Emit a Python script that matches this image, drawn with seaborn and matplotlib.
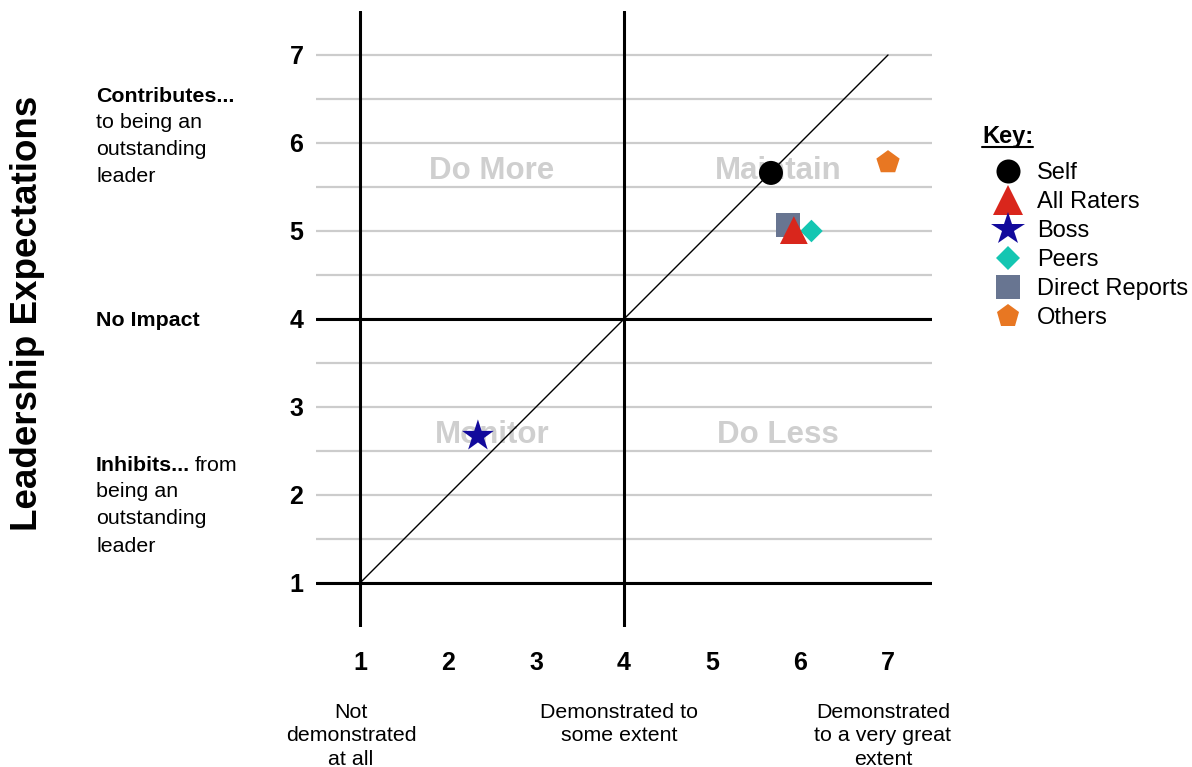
import pandas as pd
import matplotlib
matplotlib.use("Agg")
import matplotlib.pyplot as plt
from matplotlib.lines import Line2D
import seaborn as sns

# ratings (x = demonstrated, y = expectations)
raters = ["Self", "All Raters", "Boss", "Peers", "Direct Reports", "Others"]
demonstrated = [5.67, 5.93, 2.34, 6.13, 5.86, 7.0]
expectations = [5.66, 5.01, 2.67, 5.0, 5.07, 5.78]

scale_ticks = [1, 2, 3, 4, 5, 6, 7]
quadrants = ["Do More", "Maintain", "Monitor", "Do Less"]
quadrant_x = [2.5, 5.75, 2.5, 5.75]
quadrant_y = [5.59, 5.59, 2.59, 2.59]
bottom_labels = ["Not\ndemonstrated\nat all", "Demonstrated to\nsome extent",
                 "Demonstrated\nto a very great\nextent"]

colors = {"Self": "#000000", "All Raters": "#d9261c", "Boss": "#120a9c",
          "Peers": "#14c6b2", "Direct Reports": "#687591", "Others": "#e87722"}
markers = {"Self": "o", "All Raters": "^", "Boss": "*", "Peers": "D",
           "Direct Reports": "s", "Others": "p"}
msize = {"Self": 17.3, "All Raters": 20, "Boss": 24, "Peers": 11.5,
         "Direct Reports": 17.3, "Others": 17.6}
leg_msize = {"Self": 17.3, "All Raters": 21, "Boss": 25, "Peers": 12.7,
             "Direct Reports": 17.3, "Others": 17.4}
draw_order = ["Direct Reports", "Peers", "All Raters", "Self", "Boss", "Others"]


def plot():
    sns.set_style("white")
    plt.rcParams["font.family"] = ["Liberation Sans", "DejaVu Sans"]
    plt.rcParams["text.color"] = "black"
    plt.rcParams["xtick.color"] = "black"
    plt.rcParams["ytick.color"] = "black"

    df = pd.DataFrame({"rater": raters, "x": demonstrated, "y": expectations})
    df["order"] = df["rater"].map(draw_order.index)
    df = df.sort_values("order")

    W, H = 1192, 767
    fig = plt.figure(figsize=(W / 100, H / 100), dpi=100)
    ax = fig.add_axes([316 / W, (H - 627) / H, 616 / W, 616 / H])
    ax.set_xlim(0.5, 7.5)
    ax.set_ylim(0.5, 7.5)
    sns.despine(ax=ax, left=True, bottom=True)

    # grid
    for v in [1 + 0.5 * i for i in range(13)]:
        ax.axhline(v, color="#cccccc", lw=1.6, zorder=1)
    for v in [1, 4]:
        ax.axhline(v, color="black", lw=2.2, zorder=3)
        ax.axvline(v, color="black", lw=2.2, zorder=3)
    ax.plot([1, 7], [1, 7], color="black", lw=1, zorder=3)

    for q, qx, qy in zip(quadrants, quadrant_x, quadrant_y):
        ax.text(qx, qy, q, ha="center", va="baseline", fontsize=22.5,
                fontweight="bold", color="#cfcfcf", zorder=2)

    sns.scatterplot(data=df, x="x", y="y", hue="rater", style="rater", size="rater",
                    palette=colors, markers=markers,
                    sizes={k: v ** 2 for k, v in msize.items()},
                    linewidth=0, legend=False, ax=ax, zorder=5)

    ax.set_xticks(scale_ticks)
    ax.set_yticks(scale_ticks)
    ax.set_xticklabels(scale_ticks, fontsize=18, fontweight="bold")
    ax.set_yticklabels(scale_ticks, fontsize=18, fontweight="bold")
    ax.tick_params(axis="x", length=0, pad=17)
    ax.tick_params(axis="y", length=0, pad=9)
    ax.set_xlabel("")
    ax.set_ylabel("")

    # left side texts
    fig.text(28 / W, 1 - 313 / H, "Leadership Expectations", rotation=90,
             ha="center", va="center", fontsize=26.5, fontweight="bold")
    fs = 15.4
    fig.text(96 / W, 1 - 102 / H, "Contributes...", fontsize=fs, fontweight="bold", va="baseline")
    fig.text(96 / W, 1 - 113 / H, "to being an\noutstanding\nleader", fontsize=fs,
             va="top", linespacing=1.55)
    fig.text(96 / W, 1 - 326 / H, "No Impact", fontsize=fs, fontweight="bold", va="baseline")
    fig.text(96 / W, 1 - 471 / H, "Inhibits...", fontsize=fs, fontweight="bold", va="baseline")
    fig.text(195 / W, 1 - 471 / H, "from", fontsize=fs, va="baseline")
    fig.text(96 / W, 1 - 482 / H, "being an\noutstanding\nleader", fontsize=fs,
             va="top", linespacing=1.55)

    # bottom texts
    for lbl, px in zip(bottom_labels, [351, 619, 883]):
        fig.text(px / W, 1 - 702.5 / H, lbl, fontsize=fs, ha="center", va="top",
                 linespacing=1.33)

    # key
    fig.text(982 / W, 1 - 143 / H, "Key:", fontsize=17, fontweight="bold", va="baseline")
    fig.add_artist(Line2D([982 / W, 1033 / W], [1 - 147 / H] * 2, transform=fig.transFigure,
                          color="black", lw=1.5))
    handles = [Line2D([], [], ls="none", marker=markers[r], markersize=leg_msize[r],
                      markerfacecolor=colors[r], markeredgewidth=0) for r in raters]
    fig.legend(handles, raters, loc="upper left", bbox_to_anchor=(989 / W, 1 - 162 / H),
               frameon=False, borderpad=0, borderaxespad=0, handlelength=1.6,
               handletextpad=0.43, labelspacing=0.3, fontsize=17, numpoints=1)

    fig.savefig("out.png", dpi=100)


plot()
